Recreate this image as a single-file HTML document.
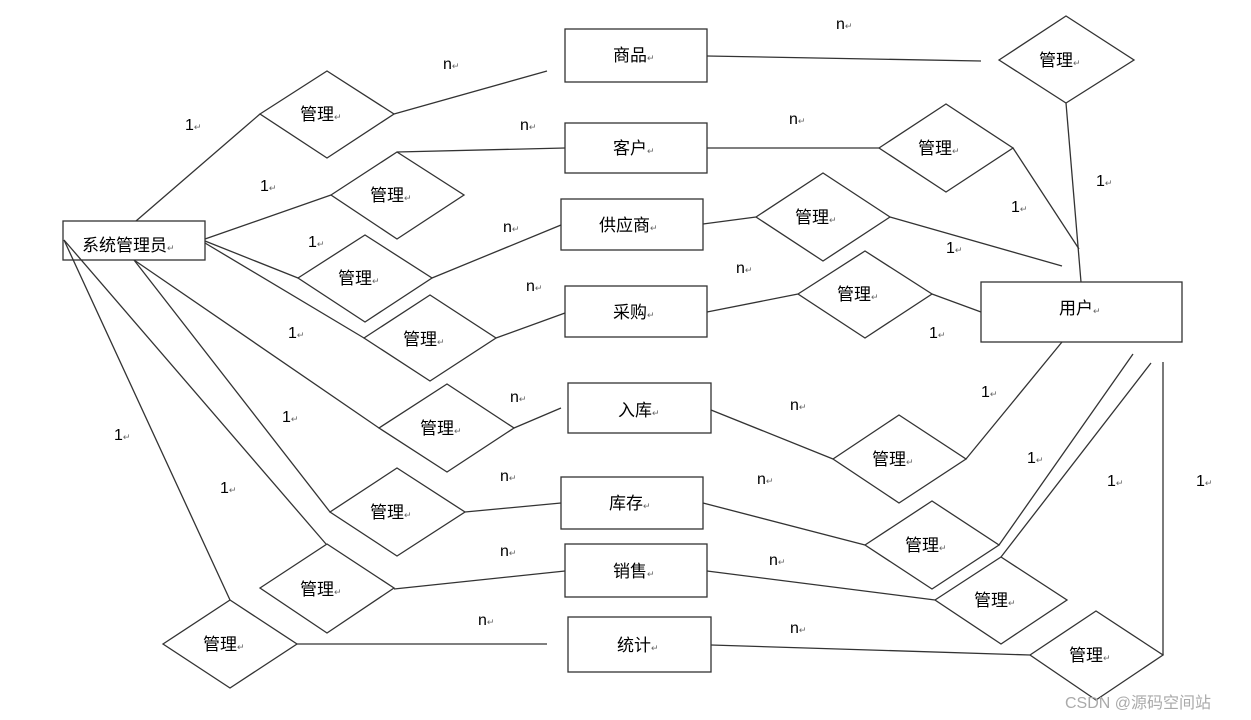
<!DOCTYPE html>
<html><head><meta charset="utf-8"><style>
html,body{margin:0;padding:0;background:#fff;}
svg{display:block;}
text{font-family:"Liberation Sans","Noto Sans CJK SC",sans-serif;fill:#000;}
.t{font-size:17px;}
.m{font-size:9px;fill:#666;}
.c{font-size:16px;}
</style></head><body>
<svg width="1251" height="720" viewBox="0 0 1251 720" xmlns="http://www.w3.org/2000/svg">
<g stroke="#333" stroke-width="1.3" fill="none">
<!-- boxes -->
<rect x="63" y="221" width="142" height="39"/>
<rect x="565" y="29" width="142" height="53"/>
<rect x="565" y="123" width="142" height="50"/>
<rect x="561" y="199" width="142" height="51"/>
<rect x="565" y="286" width="142" height="51"/>
<rect x="981" y="282" width="201" height="60"/>
<rect x="568" y="383" width="143" height="50"/>
<rect x="561" y="477" width="142" height="52"/>
<rect x="565" y="544" width="142" height="53"/>
<rect x="568" y="617" width="143" height="55"/>
<!-- diamonds left -->
<polygon points="260,114 327,71 394,114 327,158"/>
<polygon points="331,195 397,152 464,195 397,239"/>
<polygon points="298,278 365,235 432,278 365,322"/>
<polygon points="364,338 430,295 496,338 430,381"/>
<polygon points="379,428 447,384 514,428 447,472"/>
<polygon points="330,512 397,468 465,512 397,556"/>
<polygon points="260,588 327,544 394,588 327,633"/>
<polygon points="163,644 230,600 297,644 230,688"/>
<!-- diamonds right -->
<polygon points="999,60 1066,16 1134,60 1066,103"/>
<polygon points="879,148 946,104 1013,148 946,192"/>
<polygon points="756,217 823,173 890,217 823,261"/>
<polygon points="798,294 865,251 932,294 865,338"/>
<polygon points="833,459 899,415 966,459 899,503"/>
<polygon points="865,545 932,501 999,545 932,589"/>
<polygon points="935,600 1001,557 1067,600 1001,644"/>
<polygon points="1030,655 1096,611 1163,655 1096,700"/>
<!-- lines left -->
<polyline points="136,221 260,114"/>
<polyline points="394,114 547,71"/>
<polyline points="205,239 331,195"/>
<polyline points="397,152 565,148"/>
<polyline points="205,241 298,278"/>
<polyline points="432,278 561,225"/>
<polyline points="205,243 364,338"/>
<polyline points="496,338 565,313"/>
<polyline points="134,260 379,428"/>
<polyline points="514,428 561,408"/>
<polyline points="134,260 330,512"/>
<polyline points="465,512 561,503"/>
<polyline points="64,240 326,544"/>
<polyline points="394,589 565,571"/>
<polyline points="64,240 230,600"/>
<polyline points="297,644 547,644"/>
<!-- lines right -->
<polyline points="707,56 981,61"/>
<polyline points="1066,103 1081,282"/>
<polyline points="707,148 879,148"/>
<polyline points="1013,148 1079,249"/>
<polyline points="703,224 756,217"/>
<polyline points="890,217 1062,266"/>
<polyline points="707,312 798,294"/>
<polyline points="932,294 981,312"/>
<polyline points="711,410 833,459"/>
<polyline points="966,459 1062,342"/>
<polyline points="703,503 865,545"/>
<polyline points="999,545 1133,354"/>
<polyline points="707,571 935,600"/>
<polyline points="1001,557 1151,363"/>
<polyline points="711,645 1030,655"/>
<polyline points="1163,655 1163,362"/>
</g>
<!-- box labels -->
<g class="t">
<text x="82" y="251">系统管理员<tspan class="m">↵</tspan></text>
<text x="613" y="61">商品<tspan class="m">↵</tspan></text>
<text x="613" y="154">客户<tspan class="m">↵</tspan></text>
<text x="599" y="231">供应商<tspan class="m">↵</tspan></text>
<text x="613" y="318">采购<tspan class="m">↵</tspan></text>
<text x="1059" y="314">用户<tspan class="m">↵</tspan></text>
<text x="618" y="416">入库<tspan class="m">↵</tspan></text>
<text x="609" y="509">库存<tspan class="m">↵</tspan></text>
<text x="613" y="577">销售<tspan class="m">↵</tspan></text>
<text x="617" y="651">统计<tspan class="m">↵</tspan></text>
</g>
<!-- diamond labels -->
<g class="t">
<text x="300" y="120">管理<tspan class="m">↵</tspan></text>
<text x="370" y="201">管理<tspan class="m">↵</tspan></text>
<text x="338" y="284">管理<tspan class="m">↵</tspan></text>
<text x="403" y="345">管理<tspan class="m">↵</tspan></text>
<text x="420" y="434">管理<tspan class="m">↵</tspan></text>
<text x="370" y="518">管理<tspan class="m">↵</tspan></text>
<text x="300" y="595">管理<tspan class="m">↵</tspan></text>
<text x="203" y="650">管理<tspan class="m">↵</tspan></text>
<text x="1039" y="66">管理<tspan class="m">↵</tspan></text>
<text x="918" y="154">管理<tspan class="m">↵</tspan></text>
<text x="795" y="223">管理<tspan class="m">↵</tspan></text>
<text x="837" y="300">管理<tspan class="m">↵</tspan></text>
<text x="872" y="465">管理<tspan class="m">↵</tspan></text>
<text x="905" y="551">管理<tspan class="m">↵</tspan></text>
<text x="974" y="606">管理<tspan class="m">↵</tspan></text>
<text x="1069" y="661">管理<tspan class="m">↵</tspan></text>
</g>
<!-- cardinality -->
<g class="c">
<text x="443" y="69">n<tspan class="m">↵</tspan></text>
<text x="185" y="130">1<tspan class="m">↵</tspan></text>
<text x="520" y="130">n<tspan class="m">↵</tspan></text>
<text x="260" y="191">1<tspan class="m">↵</tspan></text>
<text x="308" y="247">1<tspan class="m">↵</tspan></text>
<text x="503" y="232">n<tspan class="m">↵</tspan></text>
<text x="526" y="291">n<tspan class="m">↵</tspan></text>
<text x="288" y="338">1<tspan class="m">↵</tspan></text>
<text x="510" y="402">n<tspan class="m">↵</tspan></text>
<text x="282" y="422">1<tspan class="m">↵</tspan></text>
<text x="114" y="440">1<tspan class="m">↵</tspan></text>
<text x="500" y="481">n<tspan class="m">↵</tspan></text>
<text x="220" y="493">1<tspan class="m">↵</tspan></text>
<text x="500" y="556">n<tspan class="m">↵</tspan></text>
<text x="478" y="625">n<tspan class="m">↵</tspan></text>
<text x="836" y="29">n<tspan class="m">↵</tspan></text>
<text x="789" y="124">n<tspan class="m">↵</tspan></text>
<text x="1096" y="186">1<tspan class="m">↵</tspan></text>
<text x="1011" y="212">1<tspan class="m">↵</tspan></text>
<text x="946" y="253">1<tspan class="m">↵</tspan></text>
<text x="736" y="273">n<tspan class="m">↵</tspan></text>
<text x="929" y="338">1<tspan class="m">↵</tspan></text>
<text x="981" y="397">1<tspan class="m">↵</tspan></text>
<text x="790" y="410">n<tspan class="m">↵</tspan></text>
<text x="1027" y="463">1<tspan class="m">↵</tspan></text>
<text x="757" y="484">n<tspan class="m">↵</tspan></text>
<text x="1107" y="486">1<tspan class="m">↵</tspan></text>
<text x="1196" y="486">1<tspan class="m">↵</tspan></text>
<text x="769" y="565">n<tspan class="m">↵</tspan></text>
<text x="790" y="633">n<tspan class="m">↵</tspan></text>
</g>
<text x="1065" y="708" style="font-size:16px;fill:#aaa;">CSDN @源码空间站</text>
</svg>
</body></html>
